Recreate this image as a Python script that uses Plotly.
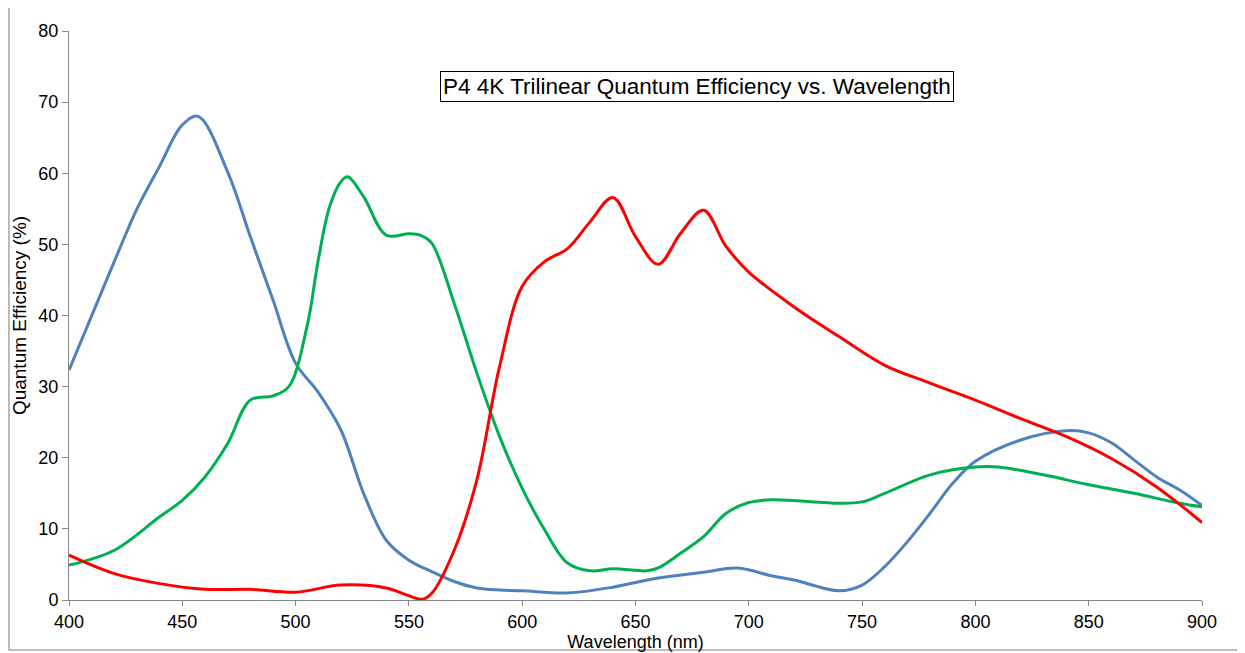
import plotly.graph_objects as go

# Wavelength (nm) and quantum efficiency (%)
blue_wl = [400, 420, 430, 440, 450, 457, 470, 480, 490, 500, 510, 520, 530, 540, 550, 560, 570, 580, 590, 600,
           620, 640, 660, 680, 695, 710, 720, 740, 750, 760, 770, 780, 790, 800, 820, 840, 850, 860, 870, 880, 890, 900]
blue_qe = [32.3, 47.6, 55.0, 61.0, 66.8, 68.0, 60.2, 51.1, 42.2, 33.3, 29.2, 23.9, 15.0, 8.4, 5.6, 4.0, 2.6, 1.7, 1.4, 1.3,
           1.0, 1.8, 3.1, 3.9, 4.5, 3.4, 2.8, 1.3, 2.1, 4.7, 8.2, 12.2, 16.4, 19.5, 22.5, 23.8, 23.5, 22.1, 19.7, 17.3, 15.5, 13.3]

green_wl = [400, 420, 440, 450, 460, 470, 480, 490, 497, 505, 510, 515, 520, 523, 530, 540, 550, 555, 560, 570, 580,
            590, 600, 610, 620, 630, 640, 655, 660, 670, 680, 690, 700, 710, 740, 750, 760, 780, 800, 810, 830, 850, 870, 890, 900]
green_qe = [4.9, 7.0, 11.7, 14.0, 17.3, 22.0, 28.1, 28.7, 30.0, 38.4, 47.8, 55.3, 58.8, 59.5, 56.7, 51.3, 51.5, 51.3, 50.2, 41.7, 31.9,
            23.0, 15.7, 9.8, 5.2, 4.1, 4.4, 4.1, 4.5, 6.6, 8.9, 12.2, 13.7, 14.1, 13.6, 13.8, 15.0, 17.6, 18.7, 18.7, 17.6, 16.2, 15.0, 13.6, 13.1]

red_wl = [400, 420, 440, 460, 480, 500, 520, 540, 550, 556, 560, 570, 580, 590, 600, 610, 620, 630, 640, 650,
          660, 670, 680, 690, 700, 720, 740, 760, 780, 800, 820, 840, 860, 880, 900]
red_qe = [6.3, 3.7, 2.3, 1.5, 1.5, 1.1, 2.1, 1.7, 0.6, 0.1, 0.9, 7.0, 16.9, 32.8, 44.1, 47.6, 49.4, 53.2, 56.6, 51.1,
          47.2, 51.6, 54.8, 49.7, 46.1, 41.2, 37.0, 33.0, 30.5, 28.1, 25.5, 23.0, 19.9, 15.9, 10.9]

x_ticks = [400, 450, 500, 550, 600, 650, 700, 750, 800, 850, 900]
y_ticks = [0, 10, 20, 30, 40, 50, 60, 70, 80]

FONT = "Liberation Sans, Arial, sans-serif"

fig = go.Figure()
for wl, qe, col in [(blue_wl, blue_qe, "#4F81BD"), (green_wl, green_qe, "#00B050"), (red_wl, red_qe, "#FF0000")]:
    fig.add_trace(go.Scatter(x=wl, y=qe, mode="lines",
                             line=dict(color=col, width=3, shape="spline", smoothing=1.0),
                             showlegend=False, hoverinfo="x+y"))

axis_col = "#898989"
fig.update_layout(
    width=1237, height=645,
    margin=dict(l=61, r=43, t=23, b=53),
    paper_bgcolor="white", plot_bgcolor="white",
    font=dict(family=FONT, color="black"),
    xaxis=dict(range=[400, 900], tickvals=x_ticks, ticktext=[str(v) for v in x_ticks], automargin=False,
               showgrid=False, zeroline=False, showline=True, linecolor=axis_col, linewidth=1,
               ticks="outside", ticklen=5, tickcolor=axis_col, tickfont=dict(size=18, family=FONT),
               title=dict(text="Wavelength (nm)", font=dict(size=18, family=FONT), standoff=1)),
    yaxis=dict(range=[0, 80], tickvals=y_ticks, ticktext=[str(v) for v in y_ticks], automargin=False,
               showgrid=False, zeroline=False, showline=True, linecolor=axis_col, linewidth=1,
               ticks="outside", ticklen=6, tickcolor=axis_col, tickfont=dict(size=18, family=FONT),
               title=dict(text="Quantum Efficiency (%)", font=dict(size=19, family=FONT), standoff=6)),
    annotations=[dict(text="P4 4K Trilinear Quantum Efficiency vs. Wavelength",
                      xref="paper", yref="paper", x=0.554, y=0.903, xanchor="center", yanchor="middle",
                      showarrow=False, font=dict(size=22.5, family=FONT, color="black"),
                      bordercolor="black", borderwidth=1, borderpad=2, bgcolor="white")],
    shapes=[dict(type="rect", xref="paper", yref="paper", x0=-0.053, x1=1.06, y0=-0.088, y1=1.0475,
                 line=dict(color="#A6A6A6", width=1.5), layer="below")],
)

fig.write_html("out.html")
